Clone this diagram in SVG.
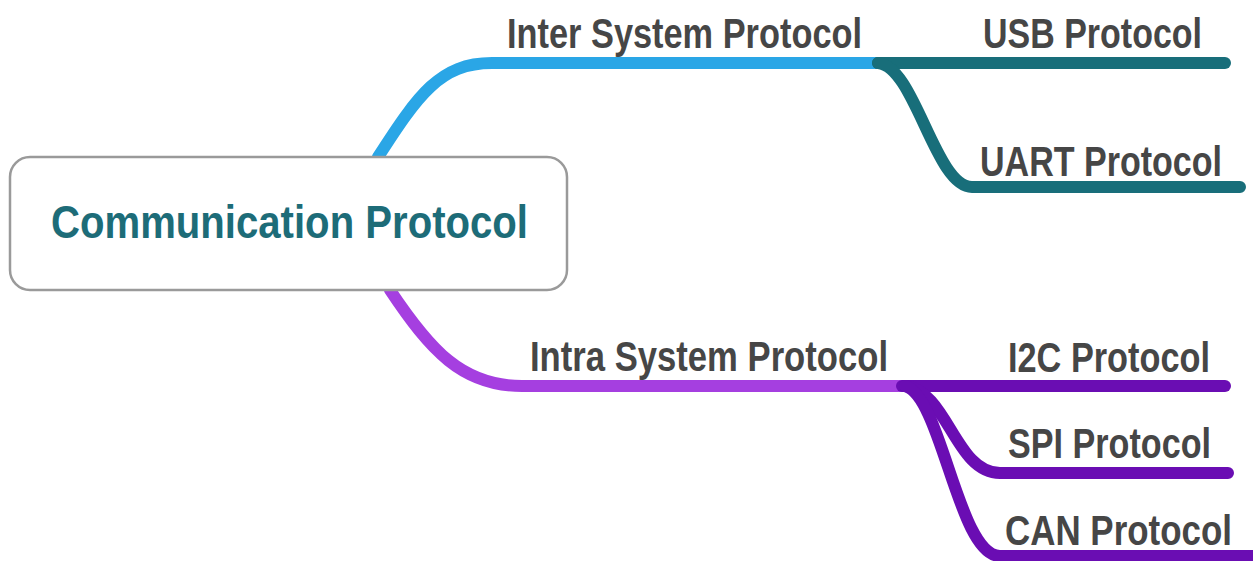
<svg xmlns="http://www.w3.org/2000/svg" width="1253" height="561" viewBox="0 0 1253 561">
<style>
.lbl{font-family:"Liberation Sans",Arial,sans-serif;font-weight:bold;font-size:42px;fill:#464646}
.title{font-family:"Liberation Sans",Arial,sans-serif;font-weight:bold;font-size:47px;fill:#1d6c78}
.ln{fill:none;stroke-width:12;stroke-linecap:round;stroke-linejoin:round}
.blue{stroke:#2aa6e6}
.teal{stroke:#186e7a}
.purple{stroke:#a53fe0}
.dpurple{stroke:#6a0db3}
</style>
<rect width="1253" height="561" fill="#ffffff"/>
<g id="connectors">
<path class="ln blue" d="M378,157 C418,95 440,63 492,63 L880,63"/>
<path class="ln teal" d="M878,63 L1225,63"/>
<path class="ln teal" d="M878,63 C915,66 935,187 972,187 L1240,187"/>
<path class="ln purple" d="M390,290 C430,350 462,386 522,386 L905,386"/>
<path class="ln dpurple" d="M902,386 L1225,386"/>
<path class="ln dpurple" d="M905,386 C948,391 955,473 1000,473 L1228,473"/>
<path class="ln dpurple" d="M905,386 C942,396 958,556 1000,556 L1260,556"/>
</g>
<g id="root">
<rect x="10" y="157" width="557" height="133" rx="20" fill="#ffffff" stroke="#9a9a9a" stroke-width="2.5"/>
<text class="title" x="51" y="238" textLength="477" lengthAdjust="spacingAndGlyphs">Communication Protocol</text>
</g>
<g id="inter">
<text class="lbl" x="507" y="48" textLength="355" lengthAdjust="spacingAndGlyphs">Inter System Protocol</text>
</g>
<g id="usb">
<text class="lbl" x="983" y="48" textLength="219" lengthAdjust="spacingAndGlyphs">USB Protocol</text>
</g>
<g id="uart">
<text class="lbl" x="980" y="176" textLength="242" lengthAdjust="spacingAndGlyphs">UART Protocol</text>
</g>
<g id="intra">
<text class="lbl" x="530" y="371" textLength="358" lengthAdjust="spacingAndGlyphs">Intra System Protocol</text>
</g>
<g id="i2c">
<text class="lbl" x="1008" y="372" textLength="202" lengthAdjust="spacingAndGlyphs">I2C Protocol</text>
</g>
<g id="spi">
<text class="lbl" x="1008" y="458" textLength="203" lengthAdjust="spacingAndGlyphs">SPI Protocol</text>
</g>
<g id="can">
<text class="lbl" x="1005" y="545" textLength="227" lengthAdjust="spacingAndGlyphs">CAN Protocol</text>
</g>
</svg>
